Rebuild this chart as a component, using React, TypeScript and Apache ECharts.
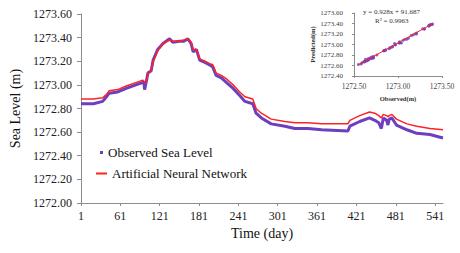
import React, { useEffect, useRef } from "react";
import * as echarts from "echarts";

// Shared sampling days (day number) for both series
const days = [1, 20, 34, 40, 44, 57, 70, 90, 95, 97, 98, 101, 103, 108, 111, 118, 126, 136, 141, 151, 158, 164, 169, 172, 177, 182, 190, 197, 202, 207, 215, 223, 233, 243, 251, 263, 268, 276, 291, 312, 327, 347, 368, 408, 411, 426, 441, 449, 455, 459, 462, 467, 469, 471, 475, 482, 498, 513, 533, 553];

const observed = [1272.84, 1272.84, 1272.86, 1272.90, 1272.93, 1272.94, 1272.97, 1273.01, 1273.02, 1273.02, 1272.96, 1273.04, 1273.10, 1273.12, 1273.21, 1273.30, 1273.35, 1273.39, 1273.36, 1273.37, 1273.37, 1273.39, 1273.35, 1273.28, 1273.30, 1273.21, 1273.19, 1273.17, 1273.15, 1273.08, 1273.06, 1273.02, 1272.97, 1272.91, 1272.86, 1272.84, 1272.76, 1272.72, 1272.67, 1272.65, 1272.63, 1272.63, 1272.62, 1272.61, 1272.65, 1272.69, 1272.72, 1272.70, 1272.68, 1272.63, 1272.72, 1272.70, 1272.66, 1272.71, 1272.72, 1272.66, 1272.62, 1272.59, 1272.58, 1272.55];

const ann = [1272.88, 1272.88, 1272.89, 1272.92, 1272.95, 1272.96, 1272.99, 1273.03, 1273.04, 1273.03, 1273.02, 1273.03, 1273.10, 1273.12, 1273.20, 1273.29, 1273.35, 1273.38, 1273.37, 1273.37, 1273.38, 1273.39, 1273.36, 1273.30, 1273.30, 1273.22, 1273.20, 1273.18, 1273.17, 1273.10, 1273.08, 1273.05, 1273.00, 1272.94, 1272.90, 1272.88, 1272.80, 1272.76, 1272.71, 1272.69, 1272.68, 1272.68, 1272.67, 1272.67, 1272.70, 1272.74, 1272.77, 1272.76, 1272.74, 1272.72, 1272.75, 1272.74, 1272.73, 1272.74, 1272.75, 1272.71, 1272.67, 1272.65, 1272.63, 1272.62];

// Regression shown in the inset
const slope = 0.928;
const intercept = 91.687;
const fitRange = [1272.55, 1273.4];
const eqText = "y = 0.928x + 91.687";
const r2Text = "R² = 0.9963";

const PURPLE = "#6b3fbf";
const RED = "#ff2222";
const FONT = "Liberation Serif";

export default function App() {
  const ref = useRef<HTMLDivElement>(null);
  useEffect(() => {
    if (!ref.current) return;
    const chart = echarts.init(ref.current, null, { renderer: "svg" });
    const obsData = days.map((d, i) => [d - 1, observed[i]]);
    const annData = days.map((d, i) => [d - 1, ann[i]]);
    const scatterData = days.map((_, i) => [observed[i], ann[i]]);
    const fitData = fitRange.map((x) => [x, slope * x + intercept]);
    const axisLine = { show: true, lineStyle: { color: "#8c8c8c", width: 1 } };
    chart.setOption({
      animation: false,
      backgroundColor: "#fff",
      textStyle: { fontFamily: FONT },
      grid: [
        { left: 81, right: 17, top: 14, bottom: 50 },
        { left: 354, right: 18, top: 13, bottom: 177 },
      ],
      xAxis: [
        {
          gridIndex: 0,
          type: "value",
          min: 0,
          max: 552,
          interval: 60,
          splitLine: { show: false },
          axisLine,
          axisTick: { show: true, length: 3, lineStyle: { color: "#8c8c8c" } },
          axisLabel: { formatter: (v: number) => String(v + 1), color: "#222", fontFamily: FONT, fontSize: 12, margin: 7, showMaxLabel: false },
          name: "Time (day)",
          nameLocation: "middle",
          nameGap: 22,
          nameTextStyle: { fontFamily: FONT, fontSize: 14, color: "#111" },
        },
        {
          gridIndex: 1,
          type: "value",
          min: 1272.5,
          max: 1273.5,
          interval: 0.5,
          splitLine: { show: false },
          axisLine,
          axisTick: { show: true, length: 2, lineStyle: { color: "#8c8c8c" } },
          axisLabel: { formatter: (v: number) => v.toFixed(2), color: "#444", fontFamily: FONT, fontSize: 7.5, margin: 6 },
          name: "Observed(m)",
          nameLocation: "middle",
          nameGap: 19,
          nameTextStyle: { fontFamily: FONT, fontSize: 6.5, fontWeight: "bold", color: "#333" },
        },
      ],
      yAxis: [
        {
          gridIndex: 0,
          type: "value",
          min: 1272,
          max: 1273.6,
          interval: 0.2,
          splitLine: { show: false },
          axisLine,
          axisTick: { show: true, length: 4, lineStyle: { color: "#8c8c8c" } },
          axisLabel: { formatter: (v: number) => v.toFixed(2), color: "#222", fontFamily: FONT, fontSize: 12, margin: 9 },
          name: "Sea Level (m)",
          nameLocation: "middle",
          nameGap: 52,
          nameTextStyle: { fontFamily: FONT, fontSize: 14, color: "#111" },
        },
        {
          gridIndex: 1,
          type: "value",
          min: 1272.4,
          max: 1273.6,
          interval: 0.2,
          splitLine: { show: false },
          axisLine,
          axisTick: { show: true, length: 2, lineStyle: { color: "#8c8c8c" } },
          axisLabel: { formatter: (v: number) => v.toFixed(2), color: "#444", fontFamily: FONT, fontSize: 7, margin: 11 },
          name: "Predicted(m)",
          nameLocation: "middle",
          nameGap: 35,
          nameTextStyle: { fontFamily: FONT, fontSize: 6.5, fontWeight: "bold", color: "#333" },
        },
      ],
      legend: [
        {
          data: ["Observed Sea Level"],
          orient: "vertical",
          left: 95,
          top: 141,
          icon: "rect",
          itemWidth: 3,
          itemHeight: 3,
          textStyle: { fontFamily: FONT, fontSize: 13, color: "#111" },
        },
        {
          data: ["Artificial Neural Network"],
          orient: "vertical",
          left: 91,
          top: 162,
          icon: "rect",
          itemWidth: 11,
          itemHeight: 2,
          textStyle: { fontFamily: FONT, fontSize: 13, color: "#111" },
        },
      ],
      graphic: [
        { type: "text", left: 363, top: 8, style: { text: eqText, font: `7px "${FONT}"`, fill: "#333" } },
        { type: "text", left: 375, top: 17, style: { text: r2Text, font: `7px "${FONT}"`, fill: "#333" } },
      ],
      series: [
        {
          name: "Observed Sea Level",
          type: "line",
          xAxisIndex: 0,
          yAxisIndex: 0,
          data: obsData,
          showSymbol: false,
          lineStyle: { color: PURPLE, width: 3 },
          itemStyle: { color: PURPLE },
          z: 2,
        },
        {
          name: "Artificial Neural Network",
          type: "line",
          xAxisIndex: 0,
          yAxisIndex: 0,
          data: annData,
          showSymbol: false,
          lineStyle: { color: RED, width: 1.5 },
          itemStyle: { color: RED },
          z: 3,
        },
        {
          name: "inset-scatter",
          type: "scatter",
          xAxisIndex: 1,
          yAxisIndex: 1,
          data: scatterData,
          symbolSize: 3,
          itemStyle: { color: PURPLE },
          z: 2,
        },
        {
          name: "inset-fit",
          type: "line",
          xAxisIndex: 1,
          yAxisIndex: 1,
          data: fitData,
          showSymbol: false,
          lineStyle: { color: RED, width: 1 },
          z: 3,
        },
      ],
    });
    return () => chart.dispose();
  }, []);
  return (
    <div
      ref={ref}
      style={{ position: "fixed", left: 0, top: 0, width: 460, height: 253 }}
    />
  );
}
